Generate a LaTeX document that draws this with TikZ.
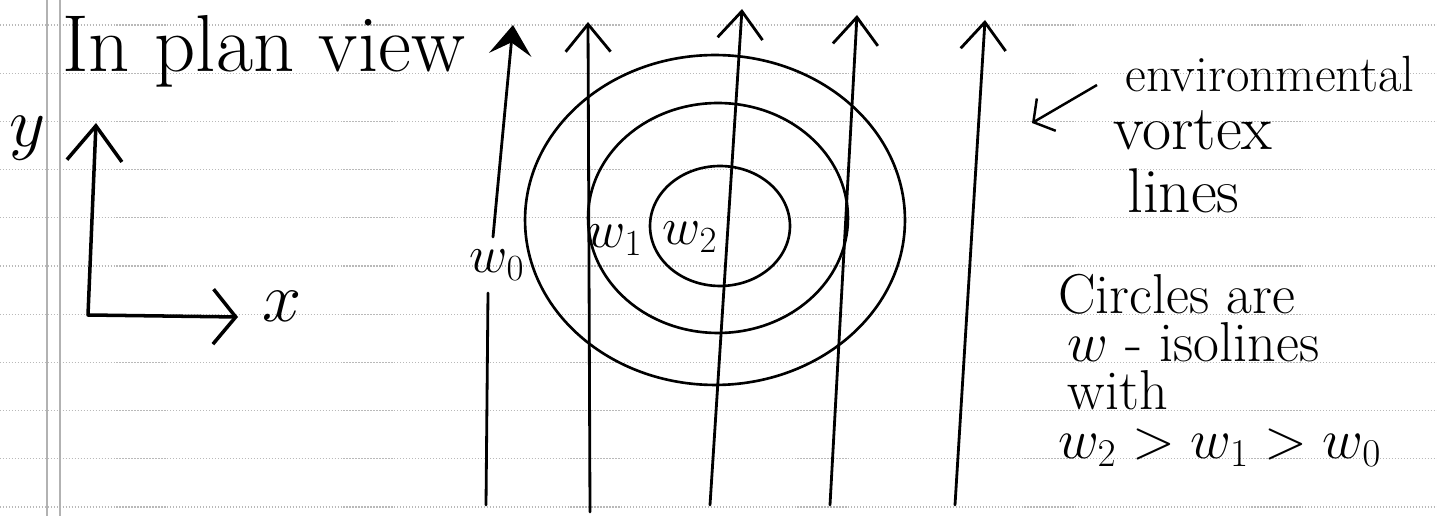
\documentclass[tikz,border=0pt]{standalone}
\usepackage{fix-cm}
\usetikzlibrary{arrows.meta}

\begin{document}
\begin{tikzpicture}[x=0.02cm, y=-0.02cm,
    paper/.style={draw=gray!55, densely dotted, line width=0.7pt},
    margin/.style={draw=gray!60, line width=0.9pt},
    vline/.style={draw, line width=1.6pt, line cap=round},
    vortex/.style={vline, -{Straight Barb[length=0.55cm, width=0.9cm]}},
    vortexdark/.style={vline, -{Stealth[length=0.6cm, width=0.85cm, inset=0.25cm]}},
    isoline/.style={draw, line width=1.5pt},
    axis/.style={draw, line width=2pt, line join=round},
    pointer/.style={draw, line width=1.4pt, -{Straight Barb[length=0.3cm, width=0.75cm]}},
    title/.style={font=\fontsize{46}{54}\selectfont, inner sep=0pt, anchor=base west},
    hand/.style={font=\fontsize{29}{34}\selectfont, inner sep=0pt, anchor=base west},
    handbig/.style={hand, font=\fontsize{36}{42}\selectfont},
    note/.style={font=\fontsize{32}{27.4}\selectfont, inner sep=0pt, align=left, anchor=north west},
    wlbl/.style={font=\fontsize{30}{36}\selectfont, inner sep=1pt}
]

\useasboundingbox (0,0) rectangle (1437,516);
\fill[white] (0,0) rectangle (1437,516);

\foreach \k in {0,...,10}
    \draw[paper] (0,{25+48.2*\k}) -- (1437,{25+48.2*\k});
\draw[margin] (47,0) -- (47,516);
\draw[margin] (60,0) -- (60,516);

\node[title] (title) at (62,72) {In plan view};

\coordinate (O)    at (88,315);
\coordinate (ytip) at (96,123);
\coordinate (xtip) at (238,317);
\draw[axis, {Straight Barb[length=0.7cm, width=1.1cm]}-{Straight Barb[length=0.45cm, width=1.1cm]}]
    (ytip) -- (O) -- (xtip);
\node[wlbl, font=\fontsize{40}{48}\selectfont] (ylbl) at (28,138) {$y$};
\node[wlbl, font=\fontsize{40}{48}\selectfont] (xlbl) at (282,306) {$x$};

\draw[isoline] (715,220) ellipse [x radius=3.8cm, y radius=3.3cm];
\draw[isoline] (718,218) ellipse [x radius=2.6cm, y radius=2.3cm];
\draw[isoline] (720,226) ellipse [x radius=1.4cm, y radius=1.2cm];

\node[wlbl] (w0) at (497,265) {$w_0$};
\node[wlbl] (w1) at (615,240) {$w_1$};
\node[wlbl] (w2) at (690,237) {$w_2$};

\coordinate (v1a) at (486,505);
\coordinate (v1b) at (488,293);
\coordinate (v1c) at (493,237);
\coordinate (v1d) at (513,25);
\draw[vline]      (v1a) -- (v1b);
\draw[vortexdark] (v1c) -- (v1d);

\coordinate (v2a) at (590,512);
\coordinate (v2b) at (588,22);
\draw[vortex] (v2a) -- (v2b);

\coordinate (v3a) at (710,505);
\coordinate (v3b) at (742,9);
\draw[vortex] (v3a) -- (v3b);

\coordinate (v4a) at (830,505);
\coordinate (v4b) at (857,15);
\draw[vortex] (v4a) -- (v4b);

\coordinate (v5a) at (955,505);
\coordinate (v5b) at (985,20);
\draw[vortex] (v5a) -- (v5b);

\node[hand]    (env)    at (1125,92)  {environmental};
\node[handbig] (vortex) at (1113,150) {vortex};
\node[handbig] (lines)  at (1127,213) {lines};
\coordinate (ptrtail) at (1097,85);
\coordinate (ptrhead) at (1032,123);
\draw[pointer] (ptrtail) -- (ptrhead);

\node[note] (circ) at (1058,274)
    {Circles are\\ \,$w$ - isolines\\ \,with\\ $w_2 > w_1 > w_0$};

\end{tikzpicture}
\end{document}
